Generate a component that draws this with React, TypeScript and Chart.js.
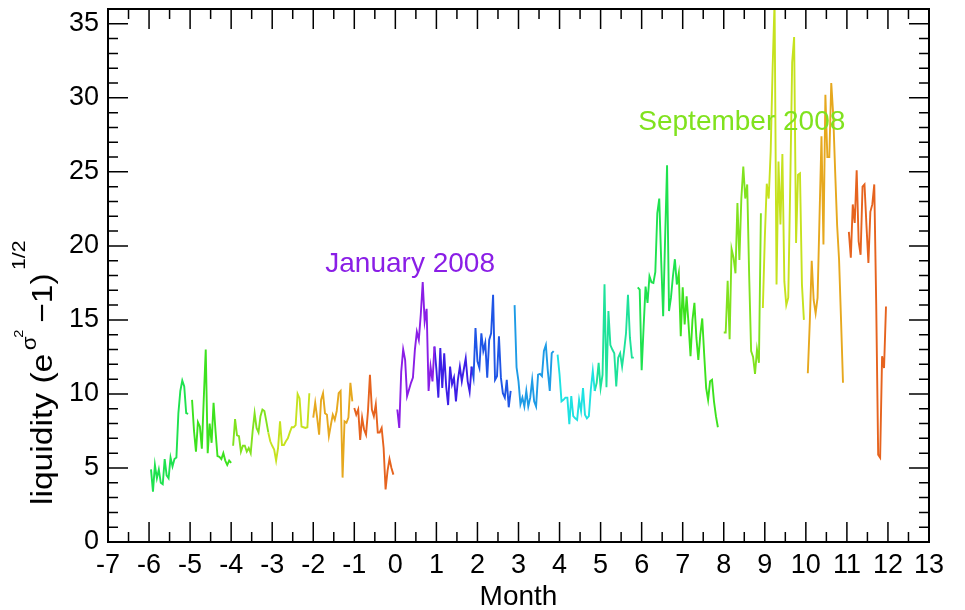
import React, { useEffect, useRef } from 'react';
import { Chart, registerables } from 'chart.js';

Chart.register(...registerables);

// ---- axis ticks ----
const xTicks = [-7, -6, -5, -4, -3, -2, -1, 0, 1, 2, 3, 4, 5, 6, 7, 8, 9, 10, 11, 12, 13];
const yTicks = [0, 5, 10, 15, 20, 25, 30, 35];
const xMinorStep = 0.5;
const yMinorStep = 1;
const tradingDaysPerMonth = 21;

// colour by calendar month (Jan .. Dec)
const monthColors = [
  '#8a1ee6', '#3c1ee6', '#1f55e6', '#1e9be6', '#1ee2e2', '#1ee29a',
  '#1ee24e', '#3ce21e', '#80e21e', '#c6e21e', '#e6a81e', '#e6631e',
];

// ---- data: daily liquidity per month segment ----
const jul07 = [4.9, 3.4, 5.2, 4.3, 4.9, 4.0, 3.9, 5.6, 4.5, 4.3, 5.7, 5.1, 5.6, 5.7, 8.7, 10.2, 10.9, 10.5, 8.7, 8.65];
const aug07 = [9.6, 7.5, 6.1, 8.1, 7.8, 6.3, 9.7, 13.0, 6.0, 8.0, 6.7, 9.4, 7.5, 5.8, 5.75, 5.6, 6.0, 5.5, 5.2, 5.5, 5.35];
const sep07 = [6.5, 8.3, 7.2, 7.15, 6.1, 6.5, 6.5, 6.1, 6.35, 6.0, 7.5, 8.7, 7.7, 7.4, 8.5, 8.95, 8.85, 8.15, 7.4];
const oct07 = [6.8, 6.5, 6.25, 5.5, 6.35, 8.15, 6.55, 6.55, 6.8, 7.0, 7.4, 7.75, 7.75, 7.9, 10.0, 9.7, 7.8, 7.75, 7.7, 7.75, 10.05];
const nov07 = [8.4, 9.4, 8.4, 7.25, 9.6, 10.05, 8.7, 8.6, 7.15, 7.9, 8.6, 8.25, 8.85, 10.05, 10.2, 4.35, 8.15, 8.05, 8.4, 10.75, 9.5];
const dec07 = [9.05, 8.6, 8.95, 6.9, 8.4, 7.6, 7.25, 8.85, 11.3, 8.95, 8.5, 9.3, 7.4, 7.4, 7.7, 6.35, 3.55, 4.8, 5.6, 5.0, 4.55];
const jan08 = [8.95, 7.7, 11.5, 13.0, 12.3, 9.85, 10.3, 10.75, 11.1, 13.0, 14.2, 13.65, 15.35, 17.55, 14.9, 15.75, 10.2, 11.85, 10.85, 13.2];
const feb08 = [11.65, 9.75, 13.1, 10.4, 12.75, 10.5, 9.25, 11.85, 10.65, 11.1, 9.5, 10.95, 11.85, 10.85, 11.65, 12.4, 10.85, 10.15, 11.85];
const mar08 = [11.1, 14.45, 12.2, 11.75, 14.1, 12.9, 13.45, 11.1, 13.65, 14.1, 16.7, 10.95, 11.2, 13.9, 11.1, 10.05, 9.75, 10.95, 9.1, 10.2];
const apr08 = [16.0, 11.8, 10.85, 9.3, 9.75, 9.15, 10.2, 9.15, 9.75, 10.95, 9.5, 9.15, 11.3, 11.35, 11.2, 12.9, 13.3, 11.55, 10.2, 12.75, 12.9];
const may08 = [12.65, 11.3, 9.5, 9.6, 9.75, 9.75, 7.95, 9.85, 8.5, 8.35, 8.25, 9.6, 8.85, 10.4, 8.6, 8.35, 8.5, 10.3, 11.55, 10.2];
const jun08 = [10.75, 12.1, 10.4, 11.3, 17.4, 10.45, 15.6, 13.3, 13.0, 12.75, 10.5, 12.45, 12.75, 11.85, 12.9, 14.1, 16.7, 13.8, 12.45, 12.45];
const jul08 = [17.2, 17.05, 11.6, 14.5, 17.25, 16.15, 17.95, 17.55, 17.5, 18.25, 22.2, 23.2, 19.0, 15.25, 20.5, 25.45, 15.6, 16.5, 17.95, 19.1, 17.4];
const aug08 = [18.15, 13.9, 17.2, 14.7, 16.6, 14.7, 12.55, 15.0, 16.15, 13.8, 12.3, 14.0, 15.1, 12.65, 10.4, 9.6, 10.85, 10.95, 9.5, 8.5, 7.75];
const sep08 = [14.15, 14.15, 17.65, 13.7, 19.8, 19.2, 18.15, 22.9, 19.05, 23.2, 25.35, 23.2, 24.15, 18.0, 12.9, 12.5, 11.35, 13.0, 12.1, 22.2];
const oct08 = [15.8, 20.5, 24.2, 23.2, 26.35, 32.0, 36.5, 17.4, 25.7, 21.45, 26.2, 17.6, 16.0, 16.5, 24.0, 32.4, 34.1, 20.2, 24.8, 24.9, 17.4, 15.0];
const nov08 = [11.4, 14.8, 19.0, 16.35, 15.45, 16.5, 22.0, 27.4, 20.1, 30.2, 26.0, 26.0, 31.0, 28.85, 25.0, 21.4, 19.05, 15.0, 10.75];
const dec08 = [20.95, 19.2, 22.8, 21.55, 25.1, 20.3, 19.4, 24.0, 24.15, 21.4, 18.85, 22.3, 22.8, 24.15, 16.0, 5.9, 5.7, 12.55, 11.75, 15.9];

const segValues = [jul07, aug07, sep07, oct07, nov07, dec07, jan08, feb08, mar08, apr08, may08, jun08, jul08, aug08, sep08, oct08, nov08, dec08];
const segCalendarMonth = [6, 7, 8, 9, 10, 11, 0, 1, 2, 3, 4, 5, 6, 7, 8, 9, 10, 11];
const segStartDay = [-125, -104, -83, -64, -42, -21, 1, 21, 40, 61, 83, 103, 124, 145, 168, 188, 211, 232];
const segJoined = [false, false, false, true, false, false, false, true, true, false, false, true, false, true, false, false, false, false];

const annotations = [
  { text: 'January 2008', x: 0.36, y: 18.25, month: 0 },
  { text: 'September 2008', x: 8.44, y: 27.84, month: 8 },
];

const FONT = "'Liberation Sans', Arial, Helvetica, sans-serif";

function buildDatasets() {
  const sets: any[] = [];
  let prevLast: { x: number; y: number } | null = null;
  segValues.forEach((vals, i) => {
    const pts = vals.map((v, j) => ({ x: (segStartDay[i] + j) / tradingDaysPerMonth, y: v }));
    const data = segJoined[i] && prevLast ? [prevLast, ...pts] : pts;
    prevLast = pts[pts.length - 1];
    sets.push({
      data,
      borderColor: monthColors[segCalendarMonth[i]],
      backgroundColor: monthColors[segCalendarMonth[i]],
      borderWidth: 1.9,
      pointRadius: 0,
      tension: 0,
      fill: false,
    });
  });
  return sets;
}

const framePlugin = {
  id: 'frameTicksText',
  afterDatasetsDraw(chart: any) {
    const { ctx, chartArea: a, scales } = chart;
    const xs = scales.x;
    const ys = scales.y;
    ctx.save();
    ctx.strokeStyle = '#000';
    ctx.lineWidth = 2;
    ctx.strokeRect(a.left, a.top, a.right - a.left, a.bottom - a.top);
    ctx.lineWidth = 1.5;
    ctx.beginPath();
    const major = 20;
    const minor = 10;
    xTicks.forEach((v, i) => {
      const px = xs.getPixelForValue(v);
      ctx.moveTo(px, a.bottom); ctx.lineTo(px, a.bottom - major);
      ctx.moveTo(px, a.top); ctx.lineTo(px, a.top + major);
      if (i < xTicks.length - 1) {
        const pm = xs.getPixelForValue(v + xMinorStep);
        ctx.moveTo(pm, a.bottom); ctx.lineTo(pm, a.bottom - minor);
        ctx.moveTo(pm, a.top); ctx.lineTo(pm, a.top + minor);
      }
    });
    yTicks.forEach((v) => {
      const py = ys.getPixelForValue(v);
      ctx.moveTo(a.left, py); ctx.lineTo(a.left + major, py);
      ctx.moveTo(a.right, py); ctx.lineTo(a.right - major, py);
      for (let k = 1; k < 5; k++) {
        const mv = v + k * yMinorStep;
        if (mv >= ys.max) break;
        const pm = ys.getPixelForValue(mv);
        ctx.moveTo(a.left, pm); ctx.lineTo(a.left + minor, pm);
        ctx.moveTo(a.right, pm); ctx.lineTo(a.right - minor, pm);
      }
    });
    ctx.stroke();

    // annotations
    ctx.font = `28px ${FONT}`;
    ctx.textAlign = 'center';
    ctx.textBaseline = 'alphabetic';
    annotations.forEach((an) => {
      ctx.fillStyle = monthColors[an.month];
      ctx.fillText(an.text, xs.getPixelForValue(an.x), ys.getPixelForValue(an.y));
    });

    // x title
    ctx.fillStyle = '#000';
    ctx.font = `28px ${FONT}`;
    ctx.fillText('Month', (a.left + a.right) / 2, 605);

    // y title (rotated with superscripts), starting near the bottom
    const pieces = [
      { t: 'liquidity (e', s: 30, r: 0, gap: 0 },
      { t: 'σ', s: 20, r: 16, gap: 3 },
      { t: '2', s: 13, r: 29, gap: -1 },
      { t: '−1)', s: 30, r: 0, gap: 6 },
      { t: '1/2', s: 19, r: 27, gap: 3 },
    ];
    ctx.translate(52, 505);
    ctx.rotate(-Math.PI / 2);
    ctx.scale(1.12, 1);
    ctx.textAlign = 'left';
    let cx = 0;
    pieces.forEach((p) => {
      cx += p.gap;
      ctx.font = `${p.s}px ${FONT}`;
      ctx.fillText(p.t, cx, -p.r);
      cx += ctx.measureText(p.t).width;
    });
    ctx.restore();
  },
};

export default function App() {
  const canvasRef = useRef<HTMLCanvasElement | null>(null);

  useEffect(() => {
    if (!canvasRef.current) return;
    const chart = new Chart(canvasRef.current, {
      type: 'line',
      data: { datasets: buildDatasets() },
      options: {
        animation: false,
        responsive: false,
        devicePixelRatio: 1,
        layout: { padding: { left: 0, right: 36, top: 9, bottom: 0 } },
        plugins: {
          legend: { display: false },
          tooltip: { enabled: false },
          title: { display: false },
        },
        scales: {
          x: {
            type: 'linear',
            min: -7,
            max: 13,
            grid: { display: false, drawTicks: false },
            border: { display: false },
            afterBuildTicks: (s: any) => { s.ticks = xTicks.map((v) => ({ value: v })); },
            afterFit: (s: any) => { s.height = 68; s.paddingLeft = 0; s.paddingRight = 0; },
            ticks: {
              autoSkip: false,
              maxRotation: 0,
              padding: 7,
              color: '#000',
              font: { family: FONT, size: 27 },
              callback: (v: any) => String(v),
            },
          },
          y: {
            type: 'linear',
            min: 0,
            max: 36,
            grid: { display: false, drawTicks: false },
            border: { display: false },
            afterBuildTicks: (s: any) => { s.ticks = yTicks.map((v) => ({ value: v })); },
            afterFit: (s: any) => { s.width = 108; s.paddingTop = 0; s.paddingBottom = 0; },
            ticks: {
              padding: 9,
              color: '#000',
              font: { family: FONT, size: 27 },
              callback: (v: any) => String(v),
            },
          },
        },
      },
      plugins: [framePlugin],
    } as any);
    return () => chart.destroy();
  }, []);

  return (
    <div style={{ position: 'fixed', left: 0, top: 0, width: 965, height: 610, background: '#fff' }}>
      <canvas ref={canvasRef} width={965} height={610} />
    </div>
  );
}
